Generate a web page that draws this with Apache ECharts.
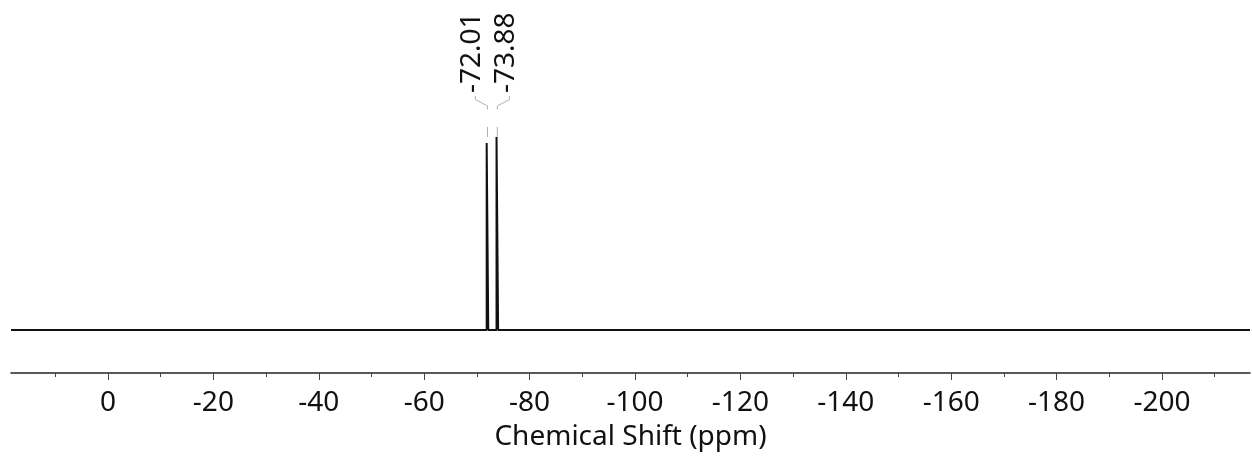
<!DOCTYPE html>
<html>
<head>
<meta charset="utf-8">
<script src="https://cdn.jsdelivr.net/npm/echarts@6/dist/echarts.min.js"></script>
<style>
  html, body { margin: 0; padding: 0; background: #ffffff; }
  #chart { width: 1252px; height: 456px; }
</style>
</head>
<body>
<div id="chart"></div>
<script>
// 19F NMR spectrum: two peaks, chemical shift axis running high -> low
const peakShifts = [-72.01, -73.88];       // ppm
const peakHeights = [0.969, 1.0];          // relative intensity
const shiftRange = [-216.7, 18.4];         // ppm, plotted window
const majorTicks = [0, -20, -40, -60, -80, -100, -120, -140, -160, -180, -200];
const minorTicks = [10, -10, -30, -50, -70, -90, -110, -130, -150, -170, -190, -210];
const axisTitle = 'Chemical Shift (ppm)';

const FONT = '"Noto Sans", "DejaVu Sans", sans-serif';
const stickHalfWidth = 0.15; // ppm, half width of each drawn line

// Stick spectrum: flat baseline with a narrow line at every peak
function buildSpectrum() {
  const order = peakShifts.map((p, i) => i).sort((a, b) => peakShifts[b] - peakShifts[a]);
  const pts = [[shiftRange[1], 0]];
  order.forEach(i => {
    const p = peakShifts[i], h = peakHeights[i];
    pts.push([p + stickHalfWidth, 0], [p + stickHalfWidth, h],
             [p - stickHalfWidth, h], [p - stickHalfWidth, 0]);
  });
  pts.push([shiftRange[0], 0]);
  return pts;
}

const peakLabelData = peakShifts.map((p, i) => [p, peakHeights[i], i]);

const chart = echarts.init(document.getElementById('chart'), null, { renderer: 'canvas' });

chart.setOption({
  animation: false,
  backgroundColor: '#ffffff',
  grid: { left: 11, right: 2, top: 137, bottom: 83 },
  xAxis: [
    {
      type: 'value', inverse: true, position: 'bottom',
      min: shiftRange[0], max: shiftRange[1],
      name: axisTitle, nameLocation: 'middle', nameGap: 50,
      nameTextStyle: { fontFamily: FONT, fontSize: 28, color: '#111' },
      axisLine: { show: true, onZero: false, lineStyle: { color: '#222', width: 1.5 } },
      axisTick: { show: true, length: 7, lineStyle: { color: '#444', width: 1 }, customValues: majorTicks },
      axisLabel: { show: true, margin: 16, fontFamily: FONT, fontSize: 28, color: '#111',
                   customValues: majorTicks },
      splitLine: { show: false }
    },
    {
      type: 'value', inverse: true, position: 'bottom',
      min: shiftRange[0], max: shiftRange[1],
      axisLine: { show: false, onZero: false },
      axisTick: { show: true, length: 4, lineStyle: { color: '#444', width: 1 }, customValues: minorTicks },
      axisLabel: { show: false },
      splitLine: { show: false }
    }
  ],
  yAxis: {
    type: 'value', min: -0.2228, max: 1.0, show: false
  },
  series: [
    {
      type: 'line',
      data: buildSpectrum(),
      showSymbol: false,
      symbol: 'none',
      lineStyle: { color: '#111', width: 2 },
      clip: false
    },
    {
      // Peak annotations: rotated shift values with bracket connectors
      type: 'custom',
      clip: false,
      data: peakLabelData,
      renderItem: function (params, api) {
        const i = api.value(2);
        const pt = api.coord([api.value(0), api.value(1)]);
        const xs = peakShifts.map(p => api.coord([p, 0])[0]);
        const center = xs.reduce((a, b) => a + b, 0) / xs.length;
        const spread = 34;
        const lx = center + (i - (xs.length - 1) / 2) * spread;
        const yLabel = 93, y1 = 96, y2 = 99.5, y3 = 106, y4 = 109.5;
        const gray = { stroke: '#b0b0b0', lineWidth: 1, fill: null };
        const children = [
          {
            type: 'polyline',
            shape: { points: [[lx, y1], [lx, y2], [pt[0], y3], [pt[0], y4]] },
            style: gray
          },
          {
            type: 'text',
            x: lx - 3, y: yLabel,
            rotation: Math.PI / 2,
            style: {
              text: api.value(0).toFixed(2),
              fontFamily: FONT, fontSize: 28, fill: '#111',
              align: 'left', verticalAlign: 'middle'
            }
          }
        ];
        if (pt[1] > 128) {
          children.push({
            type: 'line',
            shape: { x1: pt[0], y1: 127, x2: pt[0], y2: Math.min(pt[1], 137) },
            style: { stroke: '#b0b0b0', lineWidth: 1 }
          });
        }
        return { type: 'group', children: children };
      }
    }
  ]
});
</script>
</body>
</html>
